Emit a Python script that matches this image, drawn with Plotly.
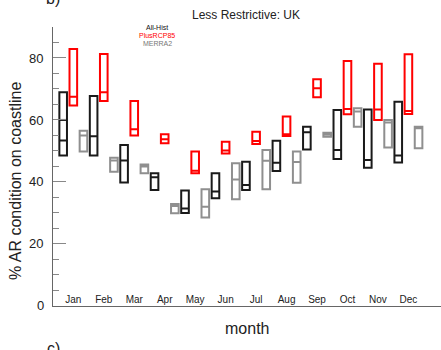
import plotly.graph_objects as go

months = ["Jan", "Feb", "Mar", "Apr", "May", "Jun", "Jul", "Aug", "Sep", "Oct", "Nov", "Dec"]
month_pos = list(range(1, 13))

# All-Hist (black)
hist_low = [48.5, 48.5, 39.8, 37.4, 30.0, 34.7, 37.4, 43.5, 50.5, 47.4, 44.6, 46.3]
hist_mid = [53.4, 54.7, 46.9, 41.5, 31.4, 36.9, 39.0, 46.2, 56.0, 50.3, 47.1, 48.5]
hist_high = [68.9, 67.7, 51.9, 42.8, 37.2, 42.8, 46.5, 53.3, 57.8, 63.2, 63.4, 65.9]
hist_mid2 = [60.0, None, None, None, None, None, None, None, None, None, None, None]

# PlusRCP85 (red)
rcp_low = [64.7, 66.1, 55.0, 52.5, 42.8, 49.2, 52.2, 54.8, 67.3, 61.8, 60.0, 61.9]
rcp_mid = [67.5, 68.9, 57.0, 53.8, 43.6, 50.1, 53.2, 55.4, 70.2, 63.5, 63.4, 62.9]
rcp_high = [82.9, 81.3, 66.1, 55.4, 49.8, 53.0, 56.2, 61.1, 73.1, 79.0, 78.1, 81.2]

# MERRA2 (gray)
mer_low = [49.8, 43.3, 42.8, 29.9, 28.5, 34.4, 37.6, 39.7, 54.6, 57.8, 51.1, 50.9]
mer_mid = [55.0, 46.9, 45.0, 32.2, 32.0, 40.8, 46.8, 46.4, 55.3, 62.7, 59.2, 57.3]
mer_high = [56.5, 47.8, 45.6, 32.9, 37.6, 46.0, 50.3, 49.8, 55.9, 63.8, 60.0, 57.8]

yticks = [0, 20, 40, 60, 80]

FONT = "Liberation Sans, Arial, Helvetica, sans-serif"
BLACK = "#1a1a1a"
RED = "#ff0000"
GRAY = "#8f8f8f"

fig = go.Figure()

def add_box(name, low, mid, high, color):
    fig.add_trace(go.Box(
        name=name, x=month_pos, q1=low, median=mid, q3=high,
        lowerfence=low, upperfence=high,
        line=dict(color=color, width=2), fillcolor="rgba(255,255,255,0)",
        hoverinfo="skip", showlegend=False, whiskerwidth=0,
    ))

add_box("All-Hist", hist_low, hist_mid, hist_high, BLACK)
add_box("PlusRCP85", rcp_low, rcp_mid, rcp_high, RED)
add_box("MERRA2", mer_low, mer_mid, mer_high, GRAY)

# extra line for All-Hist boxes
slot = 1.0 / 3.0
half = slot * (1 - 0.25) / 2
xs, ys = [], []
for p, v in zip(month_pos, hist_mid2):
    if v is not None:
        xs += [p - slot - half, p - slot + half, None]
        ys += [v, v, None]
fig.add_trace(go.Scatter(x=xs, y=ys, mode="lines", line=dict(color=BLACK, width=2),
                         hoverinfo="skip", showlegend=False))

W, H = 441, 350
ml, mr, mt, mb = 53, 0, 27, 44
pw, ph = W - ml - mr, H - mt - mb

def px_x(x):
    return (x - ml) / pw

def px_y(y):
    return (H - mb - y) / ph

anns = [
    dict(text="Less Restrictive: UK", x=px_x(246), y=px_y(15), font=dict(size=12, color="#222")),
    dict(text="All-Hist", x=px_x(157), y=px_y(27), font=dict(size=7, color="#111")),
    dict(text="PlusRCP85", x=px_x(157), y=px_y(35), font=dict(size=7, color=RED)),
    dict(text="MERRA2", x=px_x(157), y=px_y(43), font=dict(size=7, color="#777")),
    dict(text="b)", x=px_x(53), y=px_y(-1), font=dict(size=16, color="#222")),
    dict(text="c)", x=px_x(53), y=px_y(348), font=dict(size=16, color="#222")),
    dict(text="month", x=px_x(247), y=px_y(328), font=dict(size=16, color="#222")),
    dict(text="% AR condition on coastline", x=px_x(15), y=px_y(181), textangle=-90,
         font=dict(size=16, color="#222")),
]
for a in anns:
    a.update(xref="paper", yref="paper", showarrow=False, xanchor="center", yanchor="middle")

# the "0" label (plotly hides it next to inside x tick labels)
anns.append(dict(text=str(yticks[0]), xref="paper", y=yticks[0], yref="y",
                 x=px_x(46), xanchor="right", yanchor="middle", showarrow=False,
                 font=dict(size=13, color="#222")))

fig.update_layout(
    width=W, height=H,
    margin=dict(l=ml, r=mr, t=mt, b=mb, pad=0),
    paper_bgcolor="white", plot_bgcolor="white",
    boxmode="group", boxgap=0, boxgroupgap=0.25,
    font=dict(family=FONT, color="#222"),
    annotations=anns,
)
fig.update_xaxes(
    range=[0.333, 13.07], tickvals=month_pos, ticktext=months,
    ticks="", ticklabelposition="inside", tickfont=dict(size=10, color="#222"),
    showline=True, linecolor="#666", linewidth=1, showgrid=False, zeroline=False,
)
fig.update_yaxes(
    range=[-0.05, 90], tickvals=yticks, ticks="inside", ticklen=13, tickcolor="#888",
    tickfont=dict(size=13, color="#222"), ticklabelstandoff=6,
    minor=dict(tickvals=[v for v in range(5, 95, 5) if v % 20 != 0], ticks="inside",
               ticklen=6, tickcolor="#888", showgrid=False),
    showline=True, linecolor="#666", linewidth=1, showgrid=False, zeroline=False,
)

fig.write_html("out.html")
